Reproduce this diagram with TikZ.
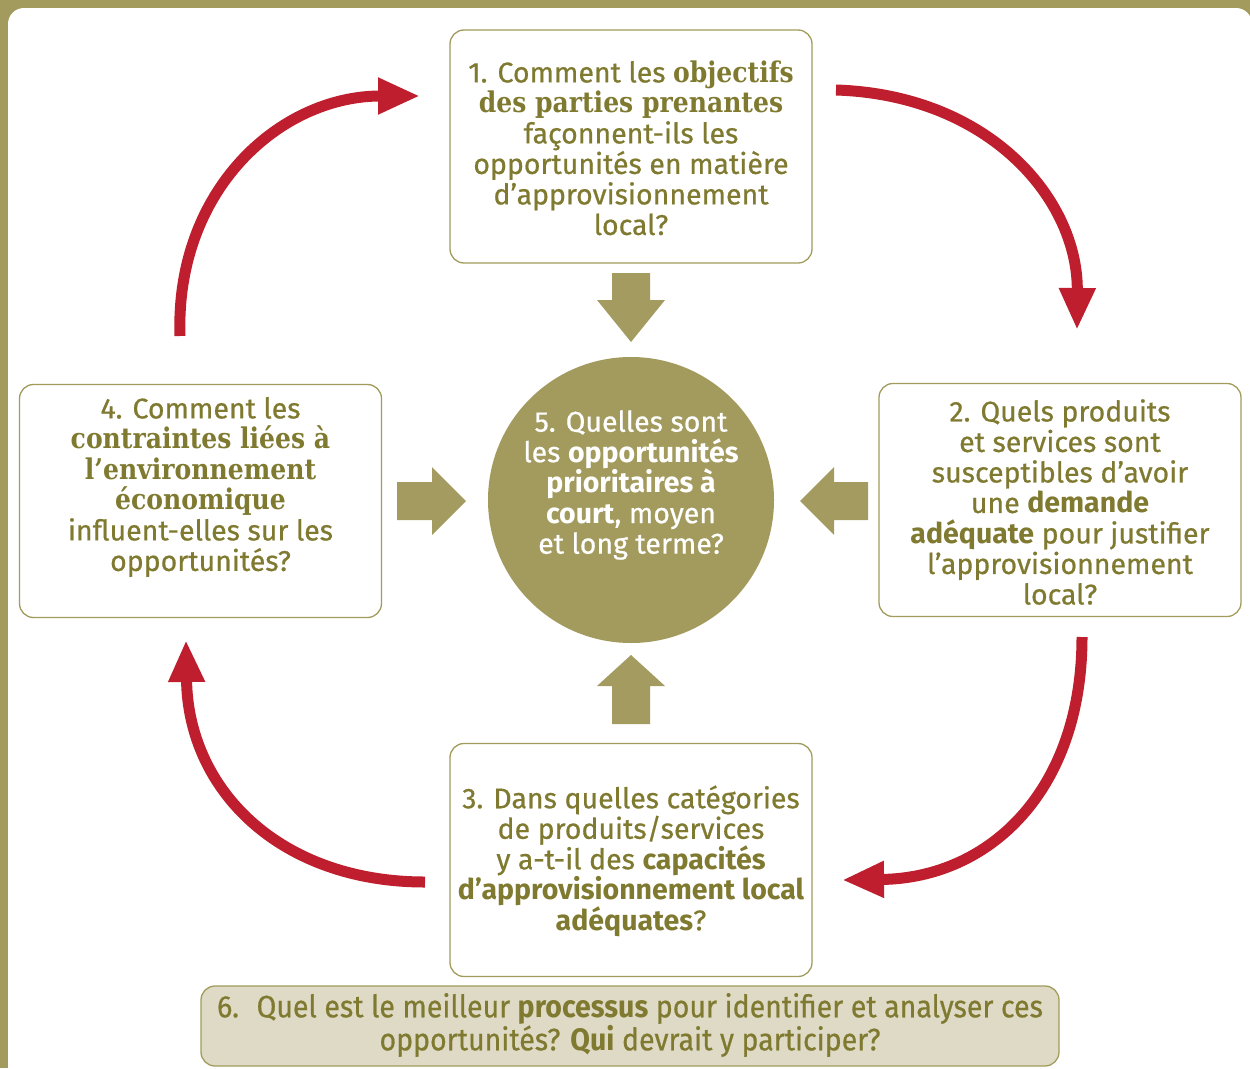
\documentclass[tikz,border=0pt]{standalone}
\usepackage{fontspec}
\setmainfont{Fira Sans}[UprightFeatures={FakeBold=0.6}]
\newfontfamily\slab{DejaVu Serif}[FakeStretch=0.88]
\newfontfamily\condensed{Fira Sans}[FakeStretch=0.92, UprightFeatures={FakeBold=0.6}]
\usetikzlibrary{arrows.meta}
\definecolor{olivebg}{HTML}{A39B5E}
\definecolor{olivetext}{HTML}{7F7A30}
\definecolor{oliveline}{HTML}{A29C5C}
\definecolor{olivefill}{HTML}{A39B60}
\definecolor{paleolive}{HTML}{DEDAC5}
\definecolor{redarrow}{HTML}{BE1E2D}
\newcommand{\slabb}[1]{{\slab\bfseries #1}}
\tikzset{
  qbox/.style={draw=oliveline, line width=1.3pt, rounded corners=14pt, fill=white,
    minimum width=362pt, minimum height=233pt, inner sep=0pt},
  qtext/.style={text=olivetext, align=center, font=\fontsize{28.5}{30.5}\selectfont, inner sep=0pt},
  redarc/.style={draw=redarrow, line width=11pt, -{Triangle[width=34pt,length=42pt]}},
  blockarrow/.style={fill=olivefill}
}
\begin{document}
\begin{tikzpicture}[x=1pt,y=-1pt]
\useasboundingbox (0,0) rectangle (1250,1068);
\fill[olivebg] (0,0) rectangle (1250,1068);
\fill[white, rounded corners=16pt] (8,8) rectangle (1252,1090);

% boxes
\node[qbox] (b1) at (631,146.5) {};
\node[qbox] (b2) at (1060,500) {};
\node[qbox] (b3) at (631,860) {};
\node[qbox] (b4) at (200.5,501) {};
\node[circle, fill=olivebg, minimum size=286pt, inner sep=0pt] (c5) at (631,500) {};
\node[draw=oliveline, line width=1.3pt, rounded corners=14pt, fill=paleolive,
  minimum width=858pt, minimum height=80pt, inner sep=0pt] (b6) at (630,1026) {};

% texts
\node[qtext] (t1) at (631,148) {1. Comment les \slabb{objectifs}\\ \slabb{des parties prenantes}\\ façonnent-ils les\\ opportunités en matière\\ d’approvisionnement\\ local?};
\node[qtext] (t2) at (1060,502) {2. Quels produits\\ et services sont\\ susceptibles d’avoir\\ une \textbf{demande}\\ \textbf{adéquate} pour justifier\\ l’approvisionnement\\ local?};
\node[qtext] (t3) at (631,861) {3. Dans quelles catégories\\ de produits/services\\ y a-t-il des \textbf{capacités}\\ \textbf{d’approvisionnement local}\\ \textbf{adéquates}?};
\node[qtext] (t4) at (200.5,487) {4. Comment les\\ \slabb{contraintes liées à}\\ \slabb{l’environnement}\\ \slabb{économique}\\ influent-elles sur les\\ opportunités?};
\node[qtext, text=white] (t5) at (631,485) {5. Quelles sont\\ les \textbf{opportunités}\\ \textbf{prioritaires à}\\ \textbf{court}, moyen\\ et long terme?};
\node[qtext, font=\condensed\fontsize{31}{30}\selectfont] (t6) at (630,1025) {6.~ Quel est le meilleur \textbf{processus} pour identifier et analyser ces\\ opportunités? \textbf{Qui} devrait y participer?};

% block arrows
\fill[blockarrow] (612,273) -- (650,273) -- (650,300) -- (665,300) -- (631,342) -- (597,300) -- (612,300) -- cycle;
\fill[blockarrow] (612,724) -- (650,724) -- (650,686) -- (665,686) -- (631,655) -- (597,686) -- (612,686) -- cycle;
\fill[blockarrow] (397,482) -- (432,482) -- (432,467) -- (466,501) -- (432,535) -- (432,520) -- (397,520) -- cycle;
\fill[blockarrow] (868,482) -- (834,482) -- (834,467) -- (800,501) -- (834,535) -- (834,520) -- (868,520) -- cycle;

% red cycle arrows
\coordinate (a1s) at (836,90);  \coordinate (a1e) at (1077,330);
\coordinate (a2s) at (1082,637); \coordinate (a2e) at (842,880);
\coordinate (a3s) at (425,882); \coordinate (a3e) at (186,640);
\coordinate (a4s) at (180,336); \coordinate (a4e) at (420,96);
\draw[redarc] (a1s) .. controls (990,95) and (1078,200) .. (a1e);
\draw[redarc] (a2s) .. controls (1082,790) and (990,878) .. (a2e);
\draw[redarc] (a3s) .. controls (280,882) and (188,790) .. (a3e);
\draw[redarc] (a4s) .. controls (175,190) and (280,96) .. (a4e);
\end{tikzpicture}
\end{document}
